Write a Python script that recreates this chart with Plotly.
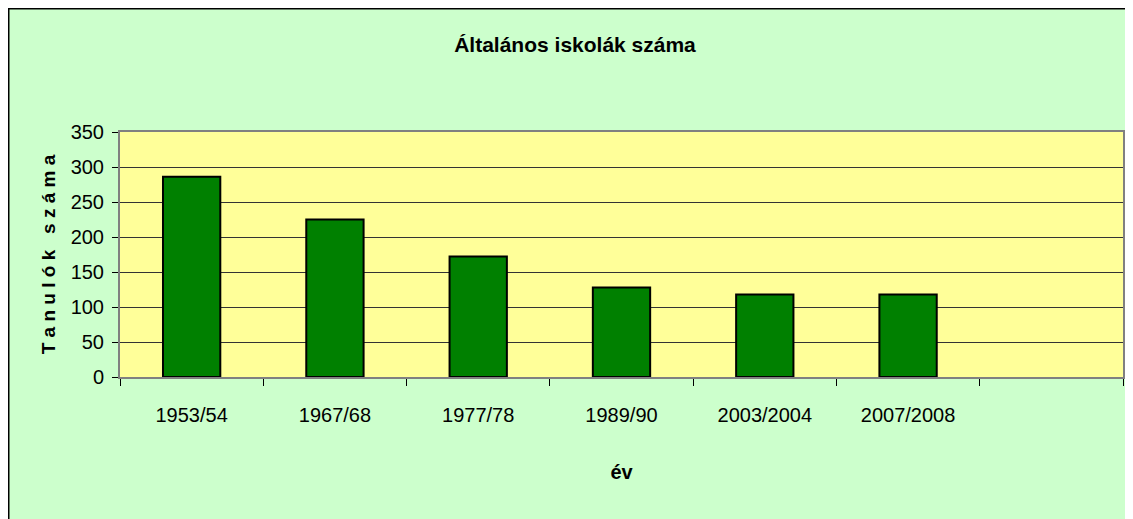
import plotly.graph_objects as go

categories = ["1953/54", "1967/68", "1977/78", "1989/90", "2003/2004", "2007/2008", " "]
values = [286, 225, 172, 128, 118, 118, None]
y_ticks = [0, 50, 100, 150, 200, 250, 300, 350]

title_text = "Általános iskolák száma"
y_title = "T a n u l ó k   s z á m a"
x_title = "év"

FONT = "Liberation Sans, Arial, sans-serif"

W, H = 1133, 519
ML, MR, MT, MB = 112, 18, 124, 150
PW = W - ML - MR
PH = H - MT - MB

fig = go.Figure(
    go.Bar(
        x=categories,
        y=values,
        marker=dict(color="#008000", line=dict(color="#000000", width=2)),
        width=0.4,
    )
)

fig.update_layout(
    width=W,
    height=H,
    margin=dict(l=ML, r=MR, t=MT, b=MB),
    paper_bgcolor="#CCFFCC",
    plot_bgcolor="#FFFF99",
    showlegend=False,
    font=dict(family=FONT, color="#000000", size=19),
    title=dict(
        text="<b>" + title_text + "</b>",
        x=567 / W,
        xref="container",
        xanchor="center",
        y=1 - 37 / H,
        yanchor="middle",
        font=dict(size=21, family=FONT),
    ),
)

fig.update_xaxes(
    type="category",
    categoryorder="array",
    categoryarray=categories,
    range=[-0.5, 6.5],
    tickson="boundaries",
    ticks="outside",
    ticklen=7,
    tickcolor="#000000",
    showline=True,
    linecolor="#808080",
    linewidth=2,
    mirror=True,
    showgrid=False,
    ticklabelstandoff=19,
    tickfont=dict(size=20, family=FONT),
    title=dict(text="<b>" + x_title + "</b>", font=dict(size=20, family=FONT), standoff=40),
)

fig.update_yaxes(
    range=[0, 350],
    tickvals=y_ticks,
    ticks="outside",
    ticklen=6,
    tickcolor="#000000",
    showline=True,
    linecolor="#808080",
    linewidth=2,
    mirror=True,
    showgrid=True,
    gridcolor="#333333",
    gridwidth=1,
    zeroline=False,
    ticklabelstandoff=4,
    tickfont=dict(size=20, family=FONT),
    title=dict(text="<b>" + y_title + "</b>", font=dict(size=19, family=FONT), standoff=10),
)

fig.add_shape(
    type="rect",
    xref="paper", yref="paper",
    x0=(0.75 - ML) / PW, x1=(W + 20 - ML) / PW,
    y0=-(MB + 20) / PH, y1=(PH + MT - 0.75) / PH,
    line=dict(color="#000000", width=1.5),
    fillcolor="rgba(0,0,0,0)",
    layer="below",
)

fig.write_html("out.html")
